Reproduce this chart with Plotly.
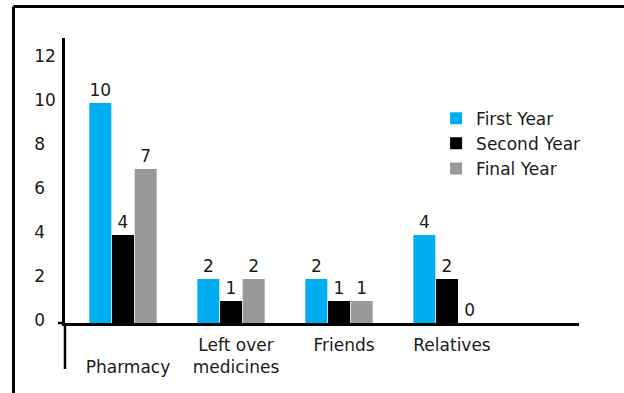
import plotly.graph_objects as go

# Sources of medicines reported by students, by year of study
categories = ["Pharmacy", "Left over medicines", "Friends", "Relatives"]
tick_text = ["<br>Pharmacy", "Left over<br>medicines", "Friends", "Relatives"]
first_year = [10, 2, 2, 4]
second_year = [4, 1, 1, 2]
final_year = [7, 2, 1, 0]
series_names = ["First Year", "Second Year", "Final Year"]
series_colors = ["#00AEEF", "#000000", "#999999"]
y_ticks = [0, 2, 4, 6, 8, 10, 12]

FONT = "DejaVu Sans"
FONT_SIZE = 17
TEXT_COLOR = "#1a1a1a"

fig = go.Figure()
for name, values, color in zip(series_names, [first_year, second_year, final_year], series_colors):
    fig.add_trace(go.Bar(
        name=name,
        x=categories,
        y=values,
        marker=dict(color=color, line=dict(width=0)),
        text=[str(v) for v in values],
        textposition="outside",
        textfont=dict(family=FONT, size=FONT_SIZE, color=TEXT_COLOR),
        cliponaxis=False,
    ))

# Pad single-digit tick labels with figure spaces so the digits line up on the left
y_tick_text = [f"{v}" if v >= 10 else f"{v}\u2007" for v in y_ticks]

fig.update_layout(
    width=624,
    height=393,
    margin=dict(l=65, r=45, t=38, b=70),
    paper_bgcolor="white",
    plot_bgcolor="white",
    barmode="group",
    bargap=0.37,
    bargroupgap=0.03,
    font=dict(family=FONT, size=FONT_SIZE, color=TEXT_COLOR),
    showlegend=True,
    legend=dict(
        x=0.722, y=0.78, xanchor="left", yanchor="top",
        font=dict(family=FONT, size=FONT_SIZE, color=TEXT_COLOR),
        bgcolor="rgba(0,0,0,0)",
        tracegroupgap=0,
    ),
    xaxis=dict(
        type="category",
        tickvals=categories,
        ticktext=tick_text,
        range=[-0.537, 4.222],
        showline=True, linecolor="#000000", linewidth=2.5,
        showgrid=False, zeroline=False,
        ticks="", ticklabelstandoff=5, ticklabelshift=5,
        tickfont=dict(family=FONT, size=FONT_SIZE, color=TEXT_COLOR),
    ),
    yaxis=dict(
        range=[0, 12.95],
        tickvals=y_ticks,
        ticktext=y_tick_text,
        showline=True, linecolor="#000000", linewidth=2.5,
        showgrid=False, zeroline=False,
        ticks="", ticklabelstandoff=3, ticklabelshift=-3,
        tickfont=dict(family=FONT, size=FONT_SIZE, color=TEXT_COLOR),
    ),
    shapes=[
        # y-axis line continues below the baseline
        dict(type="line", xref="paper", yref="paper", x0=0, x1=0, y0=0, y1=-0.1614,
             line=dict(color="#000000", width=2.5)),
        # baseline stub to the left of the y-axis
        dict(type="line", xref="paper", yref="paper", x0=-0.0136, x1=0, y0=0, y1=0,
             line=dict(color="#000000", width=2.5)),
        # outer frame (left and top edges)
        dict(type="line", xref="paper", yref="paper", x0=-0.1002, x1=-0.1002, y0=1.1105, y1=-0.28,
             line=dict(color="#000000", width=3)),
        dict(type="line", xref="paper", yref="paper", x0=-0.1002, x1=1.1, y0=1.1105, y1=1.1105,
             line=dict(color="#000000", width=3)),
    ],
)

fig.write_html("out.html")
